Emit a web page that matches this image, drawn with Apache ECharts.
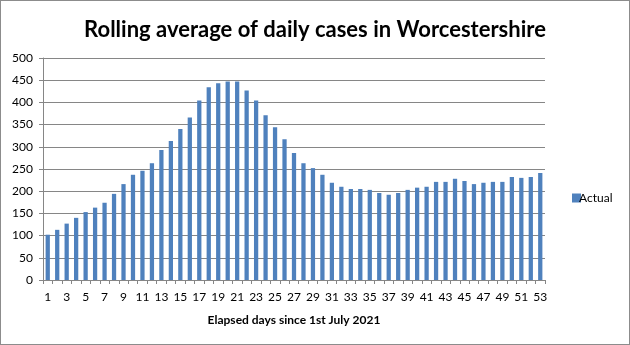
<!DOCTYPE html>
<html>
<head>
<meta charset="utf-8">
<script src="https://cdn.jsdelivr.net/npm/echarts@6/dist/echarts.min.js"></script>
<style>
html,body{margin:0;padding:0;background:#fff;}
#c{width:630px;height:345px;box-sizing:border-box;border:1px solid #8c8c8c;}
</style>
</head>
<body>
<div id="c"></div>
<script>
const categories = [];
for (let i = 1; i <= 53; i++) categories.push(String(i));
const actual = [102,113,127,140,153,163,174,194,216,237,246,263,293,313,340,366,404,434,443,447,447,427,404,371,344,317,286,263,252,237,219,210,205,205,203,196,192,196,203,208,210,221,221,228,223,216,219,221,221,232,230,232,241];
const yTicks = {min:0, max:500, interval:50};

const chart = echarts.init(document.getElementById('c'), null, {renderer:'canvas'});
const font = 'Lato, "Open Sans", sans-serif';
chart.setOption({
  animation:false,
  title:{
    text:'Rolling average of daily cases in Worcestershire',
    left:'center', top:13,
    textStyle:{fontFamily:font, fontSize:22, fontWeight:'bold', color:'#000'}
  },
  legend:{
    data:['Actual'], orient:'vertical', left:566, top:186,
    itemWidth:9, itemHeight:9, itemGap:4,
    textStyle:{fontFamily:font, fontSize:12, color:'#000', padding:[0,0,0,-7]},
    icon:'rect'
  },
  grid:{left:42, right:84, top:57, bottom:64, containLabel:false},
  xAxis:{
    type:'category', data:categories,
    name:'Elapsed days since 1st July 2021', nameLocation:'middle', nameGap:34,
    nameTextStyle:{fontFamily:font, fontSize:12, fontWeight:'bold', color:'#000'},
    axisLine:{lineStyle:{color:'#868686'}},
    axisTick:{show:true, interval:0, length:4, lineStyle:{color:'#868686'}},
    axisLabel:{interval:1, fontFamily:font, fontSize:12, color:'#000', margin:11}
  },
  yAxis:{
    type:'value', min:yTicks.min, max:yTicks.max, interval:yTicks.interval,
    axisLine:{show:true, lineStyle:{color:'#868686'}},
    axisTick:{show:true, length:4, lineStyle:{color:'#868686'}},
    axisLabel:{fontFamily:font, fontSize:12, color:'#000', margin:10},
    splitLine:{lineStyle:{color:'#868686'}}
  },
  series:[{
    name:'Actual', type:'bar', data:actual,
    barCategoryGap:'55%',
    itemStyle:{color:'#4F81BD'}
  }]
});
</script>
</body>
</html>
